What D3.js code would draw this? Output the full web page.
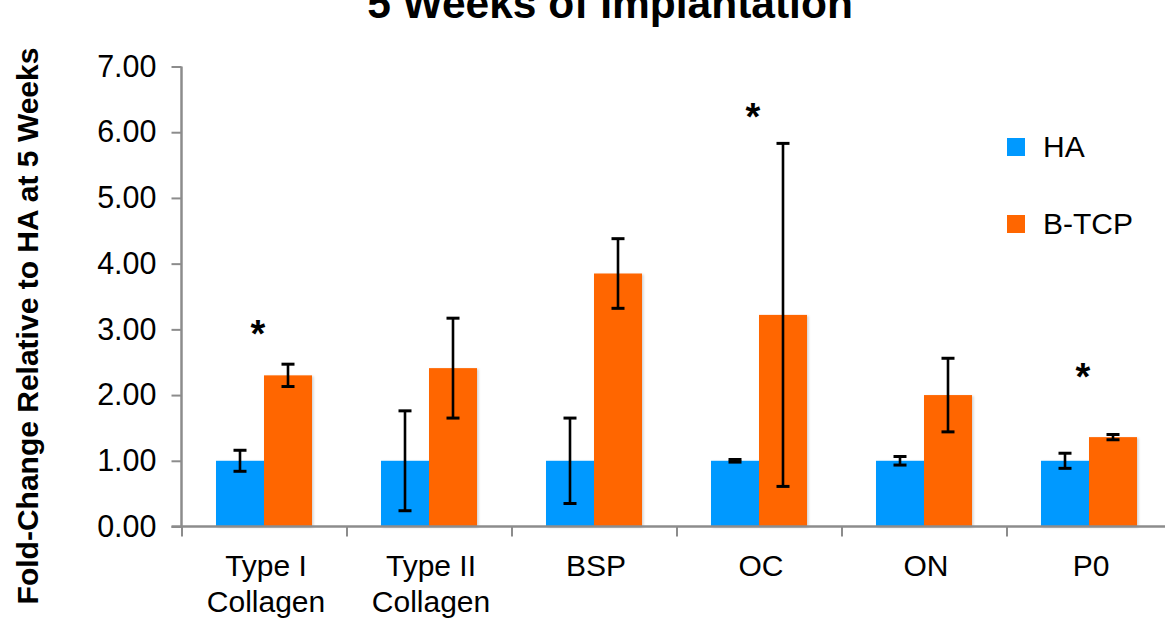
<!DOCTYPE html>
<html>
<head>
<meta charset="utf-8">
<script src="https://cdn.jsdelivr.net/npm/d3@7"></script>
<style>
  html, body { margin: 0; padding: 0; background: #fff; }
  svg { display: block; }
  text { font-family: "Liberation Sans", Arial, sans-serif; fill: #000; }
</style>
</head>
<body>
<svg id="chart" width="1165" height="619"></svg>
<script>
// ---- data ----
const categories = [["Type I", "Collagen"], ["Type II", "Collagen"], ["BSP"], ["OC"], ["ON"], ["P0"]];
const seriesNames = ["HA", "B-TCP"];
const haValues = [1.00, 1.00, 1.00, 1.00, 1.00, 1.00];
const haErrors = [0.16, 0.76, 0.65, 0.02, 0.065, 0.115];
const tcpValues = [2.30, 2.41, 3.85, 3.22, 2.00, 1.36];
const tcpErrors = [0.17, 0.76, 0.53, 2.61, 0.56, 0.04];
const sigCats = [0, 3, 5];
const sigLevels = [2.99, 6.30, 2.34];
const yTicks = [0, 1, 2, 3, 4, 5, 6, 7];
const titleText = "5 Weeks of Implantation";
const yTitle = "Fold-Change Relative to HA at 5 Weeks";
const colors = ["#0099FF", "#FF6600"];

// ---- layout ----
const svg = d3.select("#chart");
const x0 = 181.5, y0 = 526.5, yTop = 66.5, step = 165;
const x = d3.scaleBand().domain(d3.range(categories.length)).range([x0, x0 + step * categories.length]).padding(0);
const y = d3.scaleLinear().domain([0, 7]).range([y0, yTop]);
const barW = 48;

const defs = svg.append("defs");
const f = defs.append("filter").attr("id", "sh").attr("x", "-20%").attr("y", "-20%").attr("width", "140%").attr("height", "140%");
f.append("feDropShadow").attr("dx", 1.5).attr("dy", 1).attr("stdDeviation", 1.2).attr("flood-color", "#000").attr("flood-opacity", 0.18);

// title
svg.append("text").attr("x", 610).attr("y", 18).attr("text-anchor", "middle")
  .style("font-weight", "bold").style("font-size", "42.5px").text(titleText);

// y title
svg.append("text").attr("transform", "translate(38,326) rotate(-90)").attr("text-anchor", "middle")
  .style("font-weight", "bold").style("font-size", "30px").text(yTitle);

// bars
const series = [
  { vals: haValues, errs: haErrors, off: -barW },
  { vals: tcpValues, errs: tcpErrors, off: 0 }
];
series.forEach((s, si) => {
  svg.append("g").selectAll("rect").data(s.vals).join("rect")
    .attr("x", (d, i) => x(i) + x.bandwidth() / 2 + s.off)
    .attr("y", d => y(d))
    .attr("width", barW)
    .attr("height", d => y(0) - y(d))
    .attr("fill", colors[si])
    .attr("filter", "url(#sh)");
});

// axes
const yAxis = d3.axisLeft(y).tickValues(yTicks).tickFormat(d3.format(".2f")).tickSize(10).tickPadding(15);
const gy = svg.append("g").attr("transform", `translate(${x0},0)`).call(yAxis);
gy.select(".domain").attr("stroke", "#8c8c8c").attr("stroke-width", 2.5).attr("d", `M0,${yTop}V${y0}`);
gy.selectAll(".tick line").attr("stroke", "#8c8c8c").attr("stroke-width", 2);
gy.selectAll(".tick text").style("font-size", "30.5px").style("font-family", '"Liberation Sans", Arial, sans-serif').attr("fill", "#000");

const xAxis = d3.axisBottom(d3.scaleLinear().domain([0, categories.length]).range([x0, x0 + step * categories.length]))
  .tickValues(d3.range(categories.length + 1)).tickSize(10).tickFormat("");
const gx = svg.append("g").attr("transform", `translate(0,${y0})`).call(xAxis);
gx.select(".domain").attr("stroke", "#8c8c8c").attr("stroke-width", 2.5).attr("d", `M${x0 - 10},0H${x0 + step * categories.length}`);
gx.selectAll(".tick line").attr("stroke", "#8c8c8c").attr("stroke-width", 2);

// category labels
const cl = svg.append("g").selectAll("text").data(categories).join("text")
  .attr("x", (d, i) => x(i) + x.bandwidth() / 2 + 2)
  .attr("y", 576)
  .attr("text-anchor", "middle")
  .style("font-size", "30px");
cl.selectAll("tspan").data(d => d).join("tspan")
  .attr("x", function () { return d3.select(this.parentNode).attr("x"); })
  .attr("dy", (d, i) => i === 0 ? 0 : 36)
  .text(d => d);

// error bars
const capW = 13;
series.forEach((s, si) => {
  const g = svg.append("g").attr("stroke", "#000").attr("stroke-width", 2.6);
  s.vals.forEach((v, i) => {
    const cx = x(i) + x.bandwidth() / 2 + s.off + barW / 2;
    const e = s.errs[i];
    g.append("line").attr("x1", cx).attr("x2", cx).attr("y1", y(v + e)).attr("y2", y(v - e));
    g.append("line").attr("x1", cx - capW / 2).attr("x2", cx + capW / 2).attr("y1", y(v + e)).attr("y2", y(v + e)).attr("stroke-width", 3);
    g.append("line").attr("x1", cx - capW / 2).attr("x2", cx + capW / 2).attr("y1", y(v - e)).attr("y2", y(v - e)).attr("stroke-width", 3);
  });
});

// significance asterisks
svg.append("g").selectAll("text").data(sigCats).join("text")
  .attr("x", (c, i) => x(c) + x.bandwidth() / 2 - 6)
  .attr("y", (c, i) => y(sigLevels[i]) + 17)
  .attr("text-anchor", "middle")
  .style("font-size", "38px").style("font-weight", "bold")
  .text("*");

// legend
const lg = svg.append("g");
seriesNames.forEach((n, i) => {
  const ly = 147 + i * 77;
  lg.append("rect").attr("x", 1007).attr("y", ly - 9).attr("width", 18).attr("height", 18).attr("fill", colors[i]);
  lg.append("text").attr("x", 1043).attr("y", ly + 10).style("font-size", "30px").text(n);
});
</script>
</body>
</html>
